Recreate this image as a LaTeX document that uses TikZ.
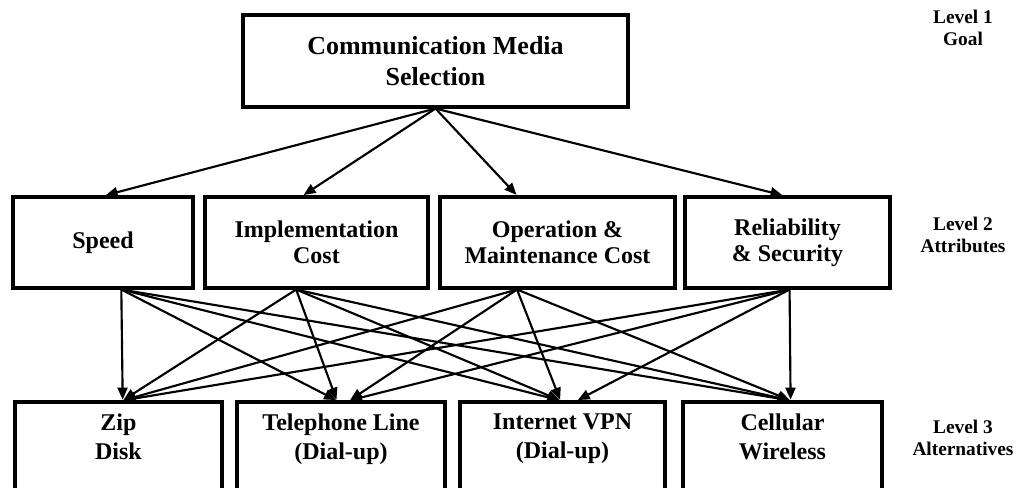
\documentclass[tikz,border=0pt]{standalone}
\usepackage{fontspec}
\setmainfont{Liberation Serif}
\usetikzlibrary{arrows.meta,calc}

\tikzset{
  box/.style={draw=black, line width=2.3pt, rectangle, align=center, inner sep=0pt,
              font=\bfseries\fontsize{18pt}{19.5pt}\selectfont},
  goalbox/.style={box, font=\bfseries\fontsize{19.5pt}{23.25pt}\selectfont},
  altbox/.style={box, font=\bfseries\fontsize{18pt}{21.75pt}\selectfont},
  levellabel/.style={align=center, inner sep=0pt, font=\bfseries\fontsize{14.5pt}{17pt}\selectfont},
  link/.style={line width=1.6pt, -{Triangle[length=9pt,width=7.5pt]}, shorten >=0.6pt}
}

\begin{document}
\begin{tikzpicture}[x=0.75pt, y=-0.75pt]
  \useasboundingbox (0,0) rectangle (1026,488);
  \clip (0,0) rectangle (1026,488);

  % Level 1: goal
  \node[goalbox, minimum width=288.75pt, minimum height=69pt] (goal) at (435.5,61)
    {Communication Media\\Selection};

  % Level 2: attributes
  \node[box, minimum width=135pt,    minimum height=68.25pt] (speed) at (103,242.5) {Speed};
  \node[box, minimum width=167.25pt, minimum height=68.25pt] (impl)  at (316.5,242.5) {Implementation\\Cost};
  \node[box, minimum width=176.25pt, minimum height=68.25pt] (oper)  at (557.5,242.5) {Operation \&\\Maintenance Cost};
  \node[box, minimum width=153.75pt, minimum height=68.25pt] (rel)   at (787.5,242.5) {Reliability\\\& Security};

  % Level 3: alternatives (boxes run past the lower edge)
  \node[altbox, minimum width=155.25pt, minimum height=73.5pt] (zip)  at (118.5,451) {Zip\\Disk\\\mbox{}};
  \node[altbox, minimum width=156pt,    minimum height=73.5pt] (tel)  at (341,451)   {Telephone Line\\(Dial-up)\\\mbox{}};
  \node[altbox, minimum width=153.75pt, minimum height=73.5pt] (vpn)  at (562.5,451) {Internet VPN\\(Dial-up)\\\mbox{}};
  \node[altbox, minimum width=149.25pt, minimum height=73.5pt] (cell) at (782.5,451) {Cellular\\Wireless\\\mbox{}};

  % Level captions
  \node[levellabel] (lev1) at (963,28)  {Level 1\\Goal};
  \node[levellabel] (lev2) at (963,235) {Level 2\\Attributes};
  \node[levellabel] (lev3) at (963,438) {Level 3\\Alternatives};

  % Attachment points on the box edges
  \coordinate (speed-in) at ($(speed.north west)!0.51!(speed.north east)$);
  \coordinate (impl-in)  at ($(impl.north west)!0.44!(impl.north east)$);
  \coordinate (oper-in)  at ($(oper.north west)!0.33!(oper.north east)$);
  \coordinate (rel-in)   at ($(rel.north west)!0.48!(rel.north east)$);

  \coordinate (speed-out) at ($(speed.south west)!0.60!(speed.south east)$);
  \coordinate (impl-out)  at ($(impl.south west)!0.41!(impl.south east)$);
  \coordinate (oper-out)  at ($(oper.south west)!0.33!(oper.south east)$);
  \coordinate (rel-out)   at ($(rel.south west)!0.51!(rel.south east)$);

  \coordinate (zip-in)  at ($(zip.north west)!0.52!(zip.north east)$);
  \coordinate (tel-a)   at ($(tel.north west)!0.48!(tel.north east)$);
  \coordinate (tel-b)   at ($(tel.north west)!0.54!(tel.north east)$);
  \coordinate (vpn-a)   at ($(vpn.north west)!0.49!(vpn.north east)$);
  \coordinate (vpn-b)   at ($(vpn.north west)!0.57!(vpn.north east)$);
  \coordinate (cell-in) at ($(cell.north west)!0.54!(cell.north east)$);

  % Goal to attributes
  \foreach \t in {speed-in, impl-in, oper-in, rel-in}
    \draw[link] (goal.south) -- (\t);

  % Attributes to alternatives
  \foreach \s/\t in {speed-out/zip-in, speed-out/tel-a, speed-out/vpn-a, speed-out/cell-in,
                     impl-out/zip-in,  impl-out/tel-a,  impl-out/vpn-a,  impl-out/cell-in,
                     oper-out/zip-in,  oper-out/tel-b,  oper-out/vpn-a,  oper-out/cell-in,
                     rel-out/zip-in,   rel-out/tel-b,   rel-out/vpn-b,   rel-out/cell-in}
    \draw[link] (\s) -- (\t);
\end{tikzpicture}
\end{document}
